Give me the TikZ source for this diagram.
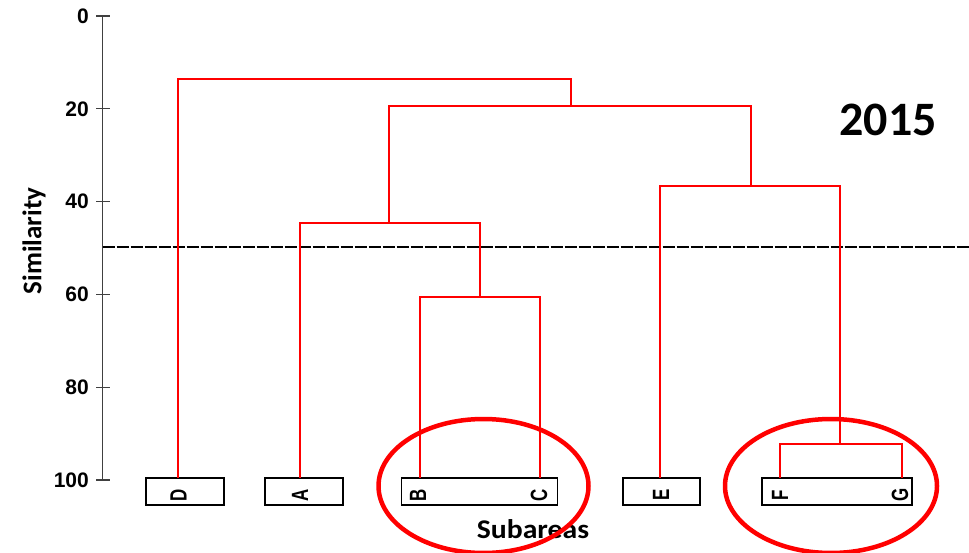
\documentclass[tikz,border=0pt]{standalone}
\usepackage{fontspec}
\setmainfont{Liberation Sans}
\newfontfamily\calfont{Carlito}
\newcommand{\leafletter}[1]{\scalebox{0.72}[1]{#1}}
\begin{document}
\begin{tikzpicture}[x=1pt,y=-1pt,
  dend/.style={draw=red, line width=1.7pt},
  axisline/.style={draw=black!75, line width=1.1pt},
  ticklabel/.style={anchor=east, inner sep=0pt, font=\fontsize{21}{21}\selectfont\bfseries},
  leafbox/.style={draw=black, line width=1.2pt, inner sep=0pt, minimum height=27pt},
  leaflabel/.style={rotate=90, inner sep=0pt, font=\fontsize{23.5}{23.5}\selectfont\bfseries},
  ring/.style={draw=red, line width=4.5pt},
  cutline/.style={draw=black, line width=1.4pt, dash pattern=on 12pt off 2pt},
  axtitle/.style={font=\calfont\fontsize{27}{27}\selectfont\bfseries, inner sep=0pt}
]
\useasboundingbox (0,0) rectangle (969,553);
\fill[white] (0,0) rectangle (969,553);

% axis
\draw[axisline] (102.7,16) -- (102.7,480);
\foreach \v in {0,20,40,60,80,100}{
  \pgfmathsetmacro{\yy}{16+4.64*\v}
  \draw[axisline] (96,\yy) -- (110,\yy);
  \node[ticklabel] (t\v) at (89,\yy) {\v};
}
\node[axtitle, rotate=90] (ytitle) at (34,241) {Similarity};
\node[axtitle, anchor=base] (xtitle) at (533,538) {\scalebox{1.1}[1]{Subareas}};
\node[font=\calfont\fontsize{48}{48}\selectfont\bfseries, inner sep=0pt] (year) at (888,120) {2015};

% cut line
\coordinate (cutL) at (102.7,247);
\coordinate (cutR) at (969,247);
\draw[cutline] (cutL) -- (cutR);

% leaf boxes
\node[leafbox, minimum width=78pt] (boxD) at (185,491.5) {};
\node[leafbox, minimum width=78pt] (boxA) at (304,491.5) {};
\node[leafbox, minimum width=156pt] (boxBC) at (479.5,491.5) {};
\node[leafbox, minimum width=77pt] (boxE) at (661.5,491.5) {};
\node[leafbox, minimum width=150pt] (boxFG) at (837,491.5) {};

% leaf labels
\node[leaflabel] (D) at (178.5,495) {\leafletter{D}};
\node[leaflabel] (A) at (300,495) {\leafletter{A}};
\node[leaflabel] (B) at (418,495) {\leafletter{B}};
\node[leaflabel] (C) at (539,495) {\leafletter{C}};
\node[leaflabel] (E) at (661,495) {\leafletter{E}};
\node[leaflabel] (F) at (780,495) {\leafletter{F}};
\node[leaflabel] (G) at (900,495) {\leafletter{G}};

% leaf tops
\coordinate (lD) at (178,478);
\coordinate (lA) at (300,478);
\coordinate (lB) at (420,478);
\coordinate (lC) at (540,478);
\coordinate (lE) at (660,478);
\coordinate (lF) at (780,478);
\coordinate (lG) at (902,478);

% junctions
\coordinate (jBC) at (480,297);
\coordinate (jABC) at (389,223);
\coordinate (jFG) at (840,444);
\coordinate (jEFG) at (751,186);
\coordinate (jAll) at (571,106);
\coordinate (jRoot) at (571,79);

% dendrogram
\draw[dend] (lB) |- (jBC) -| (lC);
\draw[dend] (lA) |- (jABC) -| (jBC);
\draw[dend] (lF) |- (jFG) -| (lG);
\draw[dend] (lE) |- (jEFG) -| (jFG);
\draw[dend] (jABC) |- (jAll) -| (jEFG);
\draw[dend] (lD) |- (jRoot) -- (jAll);

% red rings
\draw[ring] (483.5,486) ellipse [x radius=105, y radius=67];
\draw[ring] (831,486) ellipse [x radius=106, y radius=67];
\end{tikzpicture}
\end{document}
